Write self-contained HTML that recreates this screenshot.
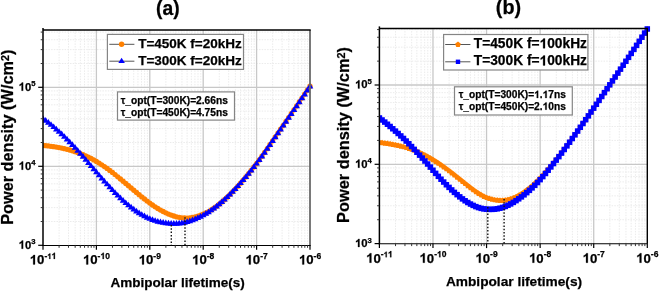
<!DOCTYPE html>
<html><head><meta charset="utf-8"><style>html,body{margin:0;padding:0;background:#fff}svg{display:block;will-change:transform}</style></head>
<body><svg width="660" height="292" viewBox="0 0 660 292">
<style>
.mg{stroke:#ebebeb;stroke-width:1;stroke-dasharray:1.5 1.2;fill:none}
.Mg{stroke:#c8c8c8;stroke-width:1.3;fill:none}
.tk{stroke:#000;stroke-width:1.2}
.tm{stroke:#333;stroke-width:1}
.h1{fill-opacity:0;stroke-opacity:0}
</style>
<rect width="660" height="292" fill="#fff"/>
<line x1="59.08" y1="29.9" x2="59.08" y2="245.3" class="mg"/>
<line x1="68.48" y1="29.9" x2="68.48" y2="245.3" class="mg"/>
<line x1="75.15" y1="29.9" x2="75.15" y2="245.3" class="mg"/>
<line x1="80.32" y1="29.9" x2="80.32" y2="245.3" class="mg"/>
<line x1="84.55" y1="29.9" x2="84.55" y2="245.3" class="mg"/>
<line x1="88.13" y1="29.9" x2="88.13" y2="245.3" class="mg"/>
<line x1="91.23" y1="29.9" x2="91.23" y2="245.3" class="mg"/>
<line x1="93.96" y1="29.9" x2="93.96" y2="245.3" class="mg"/>
<line x1="112.48" y1="29.9" x2="112.48" y2="245.3" class="mg"/>
<line x1="121.88" y1="29.9" x2="121.88" y2="245.3" class="mg"/>
<line x1="128.55" y1="29.9" x2="128.55" y2="245.3" class="mg"/>
<line x1="133.72" y1="29.9" x2="133.72" y2="245.3" class="mg"/>
<line x1="137.95" y1="29.9" x2="137.95" y2="245.3" class="mg"/>
<line x1="141.53" y1="29.9" x2="141.53" y2="245.3" class="mg"/>
<line x1="144.63" y1="29.9" x2="144.63" y2="245.3" class="mg"/>
<line x1="147.36" y1="29.9" x2="147.36" y2="245.3" class="mg"/>
<line x1="165.88" y1="29.9" x2="165.88" y2="245.3" class="mg"/>
<line x1="175.28" y1="29.9" x2="175.28" y2="245.3" class="mg"/>
<line x1="181.95" y1="29.9" x2="181.95" y2="245.3" class="mg"/>
<line x1="187.12" y1="29.9" x2="187.12" y2="245.3" class="mg"/>
<line x1="191.35" y1="29.9" x2="191.35" y2="245.3" class="mg"/>
<line x1="194.93" y1="29.9" x2="194.93" y2="245.3" class="mg"/>
<line x1="198.03" y1="29.9" x2="198.03" y2="245.3" class="mg"/>
<line x1="200.76" y1="29.9" x2="200.76" y2="245.3" class="mg"/>
<line x1="219.28" y1="29.9" x2="219.28" y2="245.3" class="mg"/>
<line x1="228.68" y1="29.9" x2="228.68" y2="245.3" class="mg"/>
<line x1="235.35" y1="29.9" x2="235.35" y2="245.3" class="mg"/>
<line x1="240.52" y1="29.9" x2="240.52" y2="245.3" class="mg"/>
<line x1="244.75" y1="29.9" x2="244.75" y2="245.3" class="mg"/>
<line x1="248.33" y1="29.9" x2="248.33" y2="245.3" class="mg"/>
<line x1="251.43" y1="29.9" x2="251.43" y2="245.3" class="mg"/>
<line x1="254.16" y1="29.9" x2="254.16" y2="245.3" class="mg"/>
<line x1="272.68" y1="29.9" x2="272.68" y2="245.3" class="mg"/>
<line x1="282.08" y1="29.9" x2="282.08" y2="245.3" class="mg"/>
<line x1="288.75" y1="29.9" x2="288.75" y2="245.3" class="mg"/>
<line x1="293.92" y1="29.9" x2="293.92" y2="245.3" class="mg"/>
<line x1="298.15" y1="29.9" x2="298.15" y2="245.3" class="mg"/>
<line x1="301.73" y1="29.9" x2="301.73" y2="245.3" class="mg"/>
<line x1="304.83" y1="29.9" x2="304.83" y2="245.3" class="mg"/>
<line x1="307.56" y1="29.9" x2="307.56" y2="245.3" class="mg"/>
<line x1="43" y1="221.52" x2="310" y2="221.52" class="mg"/>
<line x1="43" y1="207.61" x2="310" y2="207.61" class="mg"/>
<line x1="43" y1="197.74" x2="310" y2="197.74" class="mg"/>
<line x1="43" y1="190.08" x2="310" y2="190.08" class="mg"/>
<line x1="43" y1="183.83" x2="310" y2="183.83" class="mg"/>
<line x1="43" y1="178.54" x2="310" y2="178.54" class="mg"/>
<line x1="43" y1="173.96" x2="310" y2="173.96" class="mg"/>
<line x1="43" y1="169.91" x2="310" y2="169.91" class="mg"/>
<line x1="43" y1="142.52" x2="310" y2="142.52" class="mg"/>
<line x1="43" y1="128.61" x2="310" y2="128.61" class="mg"/>
<line x1="43" y1="118.74" x2="310" y2="118.74" class="mg"/>
<line x1="43" y1="111.08" x2="310" y2="111.08" class="mg"/>
<line x1="43" y1="104.83" x2="310" y2="104.83" class="mg"/>
<line x1="43" y1="99.54" x2="310" y2="99.54" class="mg"/>
<line x1="43" y1="94.96" x2="310" y2="94.96" class="mg"/>
<line x1="43" y1="90.91" x2="310" y2="90.91" class="mg"/>
<line x1="43" y1="63.52" x2="310" y2="63.52" class="mg"/>
<line x1="43" y1="49.61" x2="310" y2="49.61" class="mg"/>
<line x1="43" y1="39.74" x2="310" y2="39.74" class="mg"/>
<line x1="43" y1="32.08" x2="310" y2="32.08" class="mg"/>
<line x1="96.4" y1="29.9" x2="96.4" y2="245.3" class="Mg"/>
<line x1="149.8" y1="29.9" x2="149.8" y2="245.3" class="Mg"/>
<line x1="203.2" y1="29.9" x2="203.2" y2="245.3" class="Mg"/>
<line x1="256.6" y1="29.9" x2="256.6" y2="245.3" class="Mg"/>
<line x1="43" y1="166.3" x2="310" y2="166.3" class="Mg"/>
<line x1="43" y1="87.3" x2="310" y2="87.3" class="Mg"/>
<clipPath id="ca"><rect x="43" y="0" width="400" height="292"/></clipPath><g clip-path="url(#ca)">
<circle cx="43" cy="145.42" r="2.65" fill="#ff8000"/>
<circle cx="45.67" cy="145.67" r="2.65" fill="#ff8000"/>
<circle cx="48.34" cy="145.95" r="2.65" fill="#ff8000"/>
<circle cx="51.01" cy="146.28" r="2.65" fill="#ff8000"/>
<circle cx="53.68" cy="146.65" r="2.65" fill="#ff8000"/>
<circle cx="56.35" cy="147.07" r="2.65" fill="#ff8000"/>
<circle cx="59.02" cy="147.54" r="2.65" fill="#ff8000"/>
<circle cx="61.69" cy="148.07" r="2.65" fill="#ff8000"/>
<circle cx="64.36" cy="148.65" r="2.65" fill="#ff8000"/>
<circle cx="67.03" cy="149.29" r="2.65" fill="#ff8000"/>
<circle cx="69.7" cy="150" r="2.65" fill="#ff8000"/>
<circle cx="72.37" cy="150.78" r="2.65" fill="#ff8000"/>
<circle cx="75.04" cy="151.63" r="2.65" fill="#ff8000"/>
<circle cx="77.71" cy="152.56" r="2.65" fill="#ff8000"/>
<circle cx="80.38" cy="153.57" r="2.65" fill="#ff8000"/>
<circle cx="83.05" cy="154.66" r="2.65" fill="#ff8000"/>
<circle cx="85.72" cy="155.84" r="2.65" fill="#ff8000"/>
<circle cx="88.39" cy="157.1" r="2.65" fill="#ff8000"/>
<circle cx="91.06" cy="158.44" r="2.65" fill="#ff8000"/>
<circle cx="93.73" cy="159.9" r="2.65" fill="#ff8000"/>
<circle cx="96.4" cy="161.46" r="2.65" fill="#ff8000"/>
<circle cx="99.07" cy="163.1" r="2.65" fill="#ff8000"/>
<circle cx="101.74" cy="164.81" r="2.65" fill="#ff8000"/>
<circle cx="104.41" cy="166.6" r="2.65" fill="#ff8000"/>
<circle cx="107.08" cy="168.46" r="2.65" fill="#ff8000"/>
<circle cx="109.75" cy="170.41" r="2.65" fill="#ff8000"/>
<circle cx="112.42" cy="172.45" r="2.65" fill="#ff8000"/>
<circle cx="115.09" cy="174.58" r="2.65" fill="#ff8000"/>
<circle cx="117.76" cy="176.78" r="2.65" fill="#ff8000"/>
<circle cx="120.43" cy="179.02" r="2.65" fill="#ff8000"/>
<circle cx="123.1" cy="181.27" r="2.65" fill="#ff8000"/>
<circle cx="125.77" cy="183.5" r="2.65" fill="#ff8000"/>
<circle cx="128.44" cy="185.74" r="2.65" fill="#ff8000"/>
<circle cx="131.11" cy="188" r="2.65" fill="#ff8000"/>
<circle cx="133.78" cy="190.25" r="2.65" fill="#ff8000"/>
<circle cx="136.45" cy="192.49" r="2.65" fill="#ff8000"/>
<circle cx="139.12" cy="194.71" r="2.65" fill="#ff8000"/>
<circle cx="141.79" cy="196.89" r="2.65" fill="#ff8000"/>
<circle cx="144.46" cy="199.02" r="2.65" fill="#ff8000"/>
<circle cx="147.13" cy="201.1" r="2.65" fill="#ff8000"/>
<circle cx="149.8" cy="203.1" r="2.65" fill="#ff8000"/>
<circle cx="152.47" cy="205.01" r="2.65" fill="#ff8000"/>
<circle cx="155.14" cy="206.81" r="2.65" fill="#ff8000"/>
<circle cx="157.81" cy="208.5" r="2.65" fill="#ff8000"/>
<circle cx="160.48" cy="210.07" r="2.65" fill="#ff8000"/>
<circle cx="163.15" cy="211.51" r="2.65" fill="#ff8000"/>
<circle cx="165.82" cy="212.83" r="2.65" fill="#ff8000"/>
<circle cx="168.49" cy="214.03" r="2.65" fill="#ff8000"/>
<circle cx="171.16" cy="215.09" r="2.65" fill="#ff8000"/>
<circle cx="173.83" cy="216.01" r="2.65" fill="#ff8000"/>
<circle cx="176.5" cy="216.78" r="2.65" fill="#ff8000"/>
<circle cx="179.17" cy="217.37" r="2.65" fill="#ff8000"/>
<circle cx="181.84" cy="217.79" r="2.65" fill="#ff8000"/>
<circle cx="184.51" cy="218.02" r="2.65" fill="#ff8000"/>
<circle cx="187.18" cy="218.05" r="2.65" fill="#ff8000"/>
<circle cx="189.85" cy="217.87" r="2.65" fill="#ff8000"/>
<circle cx="192.52" cy="217.48" r="2.65" fill="#ff8000"/>
<circle cx="195.19" cy="216.91" r="2.65" fill="#ff8000"/>
<circle cx="197.86" cy="216.17" r="2.65" fill="#ff8000"/>
<circle cx="200.53" cy="215.27" r="2.65" fill="#ff8000"/>
<circle cx="203.2" cy="214.2" r="2.65" fill="#ff8000"/>
<circle cx="205.87" cy="212.96" r="2.65" fill="#ff8000"/>
<circle cx="208.54" cy="211.54" r="2.65" fill="#ff8000"/>
<circle cx="211.21" cy="209.95" r="2.65" fill="#ff8000"/>
<circle cx="213.88" cy="208.19" r="2.65" fill="#ff8000"/>
<circle cx="216.55" cy="206.28" r="2.65" fill="#ff8000"/>
<circle cx="219.22" cy="204.21" r="2.65" fill="#ff8000"/>
<circle cx="221.89" cy="202" r="2.65" fill="#ff8000"/>
<circle cx="224.56" cy="199.65" r="2.65" fill="#ff8000"/>
<circle cx="227.23" cy="197.17" r="2.65" fill="#ff8000"/>
<circle cx="229.9" cy="194.56" r="2.65" fill="#ff8000"/>
<circle cx="232.57" cy="191.84" r="2.65" fill="#ff8000"/>
<circle cx="235.24" cy="189.03" r="2.65" fill="#ff8000"/>
<circle cx="237.91" cy="186.13" r="2.65" fill="#ff8000"/>
<circle cx="240.58" cy="183.14" r="2.65" fill="#ff8000"/>
<circle cx="243.25" cy="180.07" r="2.65" fill="#ff8000"/>
<circle cx="245.92" cy="176.91" r="2.65" fill="#ff8000"/>
<circle cx="248.59" cy="173.68" r="2.65" fill="#ff8000"/>
<circle cx="251.26" cy="170.36" r="2.65" fill="#ff8000"/>
<circle cx="253.93" cy="166.98" r="2.65" fill="#ff8000"/>
<circle cx="256.6" cy="163.51" r="2.65" fill="#ff8000"/>
<circle cx="259.27" cy="159.94" r="2.65" fill="#ff8000"/>
<circle cx="261.94" cy="156.25" r="2.65" fill="#ff8000"/>
<circle cx="264.61" cy="152.48" r="2.65" fill="#ff8000"/>
<circle cx="267.28" cy="148.64" r="2.65" fill="#ff8000"/>
<circle cx="269.95" cy="144.75" r="2.65" fill="#ff8000"/>
<circle cx="272.62" cy="140.84" r="2.65" fill="#ff8000"/>
<circle cx="275.29" cy="136.93" r="2.65" fill="#ff8000"/>
<circle cx="277.96" cy="133.03" r="2.65" fill="#ff8000"/>
<circle cx="280.63" cy="129.16" r="2.65" fill="#ff8000"/>
<circle cx="283.3" cy="125.3" r="2.65" fill="#ff8000"/>
<circle cx="285.97" cy="121.43" r="2.65" fill="#ff8000"/>
<circle cx="288.64" cy="117.56" r="2.65" fill="#ff8000"/>
<circle cx="291.31" cy="113.68" r="2.65" fill="#ff8000"/>
<circle cx="293.98" cy="109.78" r="2.65" fill="#ff8000"/>
<circle cx="296.65" cy="105.88" r="2.65" fill="#ff8000"/>
<circle cx="299.32" cy="101.96" r="2.65" fill="#ff8000"/>
<circle cx="301.99" cy="98.03" r="2.65" fill="#ff8000"/>
<circle cx="304.66" cy="94.09" r="2.65" fill="#ff8000"/>
<circle cx="307.33" cy="90.15" r="2.65" fill="#ff8000"/>
<circle cx="310" cy="86.19" r="2.65" fill="#ff8000"/>
<path d="M43 115.24L46.3 120.94L39.7 120.94Z" fill="#0000ff"/>
<path d="M45.67 117.11L48.97 122.81L42.37 122.81Z" fill="#0000ff"/>
<path d="M48.34 119.09L51.64 124.79L45.04 124.79Z" fill="#0000ff"/>
<path d="M51.01 121.17L54.31 126.87L47.71 126.87Z" fill="#0000ff"/>
<path d="M53.68 123.38L56.98 129.08L50.38 129.08Z" fill="#0000ff"/>
<path d="M56.35 125.71L59.65 131.41L53.05 131.41Z" fill="#0000ff"/>
<path d="M59.02 128.13L62.32 133.83L55.72 133.83Z" fill="#0000ff"/>
<path d="M61.69 130.61L64.99 136.31L58.39 136.31Z" fill="#0000ff"/>
<path d="M64.36 133.14L67.66 138.84L61.06 138.84Z" fill="#0000ff"/>
<path d="M67.03 135.76L70.33 141.46L63.73 141.46Z" fill="#0000ff"/>
<path d="M69.7 138.45L73 144.15L66.4 144.15Z" fill="#0000ff"/>
<path d="M72.37 141.22L75.67 146.92L69.07 146.92Z" fill="#0000ff"/>
<path d="M75.04 144.06L78.34 149.76L71.74 149.76Z" fill="#0000ff"/>
<path d="M77.71 146.99L81.01 152.69L74.41 152.69Z" fill="#0000ff"/>
<path d="M80.38 149.98L83.68 155.68L77.08 155.68Z" fill="#0000ff"/>
<path d="M83.05 153.05L86.35 158.75L79.75 158.75Z" fill="#0000ff"/>
<path d="M85.72 156.16L89.02 161.86L82.42 161.86Z" fill="#0000ff"/>
<path d="M88.39 159.29L91.69 164.99L85.09 164.99Z" fill="#0000ff"/>
<path d="M91.06 162.42L94.36 168.12L87.76 168.12Z" fill="#0000ff"/>
<path d="M93.73 165.53L97.03 171.23L90.43 171.23Z" fill="#0000ff"/>
<path d="M96.4 168.6L99.7 174.3L93.1 174.3Z" fill="#0000ff"/>
<path d="M99.07 171.66L102.37 177.36L95.77 177.36Z" fill="#0000ff"/>
<path d="M101.74 174.7L105.04 180.4L98.44 180.4Z" fill="#0000ff"/>
<path d="M104.41 177.7L107.71 183.4L101.11 183.4Z" fill="#0000ff"/>
<path d="M107.08 180.67L110.38 186.37L103.78 186.37Z" fill="#0000ff"/>
<path d="M109.75 183.58L113.05 189.28L106.45 189.28Z" fill="#0000ff"/>
<path d="M112.42 186.42L115.72 192.12L109.12 192.12Z" fill="#0000ff"/>
<path d="M115.09 189.2L118.39 194.9L111.79 194.9Z" fill="#0000ff"/>
<path d="M117.76 191.89L121.06 197.59L114.46 197.59Z" fill="#0000ff"/>
<path d="M120.43 194.49L123.73 200.19L117.13 200.19Z" fill="#0000ff"/>
<path d="M123.1 196.99L126.4 202.69L119.8 202.69Z" fill="#0000ff"/>
<path d="M125.77 199.38L129.07 205.08L122.47 205.08Z" fill="#0000ff"/>
<path d="M128.44 201.66L131.74 207.36L125.14 207.36Z" fill="#0000ff"/>
<path d="M131.11 203.82L134.41 209.52L127.81 209.52Z" fill="#0000ff"/>
<path d="M133.78 205.84L137.08 211.54L130.48 211.54Z" fill="#0000ff"/>
<path d="M136.45 207.74L139.75 213.44L133.15 213.44Z" fill="#0000ff"/>
<path d="M139.12 209.5L142.42 215.2L135.82 215.2Z" fill="#0000ff"/>
<path d="M141.79 211.13L145.09 216.83L138.49 216.83Z" fill="#0000ff"/>
<path d="M144.46 212.61L147.76 218.31L141.16 218.31Z" fill="#0000ff"/>
<path d="M147.13 213.96L150.43 219.66L143.83 219.66Z" fill="#0000ff"/>
<path d="M149.8 215.16L153.1 220.86L146.5 220.86Z" fill="#0000ff"/>
<path d="M152.47 216.23L155.77 221.93L149.17 221.93Z" fill="#0000ff"/>
<path d="M155.14 217.15L158.44 222.85L151.84 222.85Z" fill="#0000ff"/>
<path d="M157.81 217.94L161.11 223.64L154.51 223.64Z" fill="#0000ff"/>
<path d="M160.48 218.59L163.78 224.29L157.18 224.29Z" fill="#0000ff"/>
<path d="M163.15 219.12L166.45 224.82L159.85 224.82Z" fill="#0000ff"/>
<path d="M165.82 219.53L169.12 225.23L162.52 225.23Z" fill="#0000ff"/>
<path d="M168.49 219.84L171.79 225.54L165.19 225.54Z" fill="#0000ff"/>
<path d="M171.16 220.02L174.46 225.72L167.86 225.72Z" fill="#0000ff"/>
<path d="M173.83 220.07L177.13 225.77L170.53 225.77Z" fill="#0000ff"/>
<path d="M176.5 220L179.8 225.7L173.2 225.7Z" fill="#0000ff"/>
<path d="M179.17 219.79L182.47 225.49L175.87 225.49Z" fill="#0000ff"/>
<path d="M181.84 219.44L185.14 225.14L178.54 225.14Z" fill="#0000ff"/>
<path d="M184.51 218.94L187.81 224.64L181.21 224.64Z" fill="#0000ff"/>
<path d="M187.18 218.29L190.48 223.99L183.88 223.99Z" fill="#0000ff"/>
<path d="M189.85 217.51L193.15 223.21L186.55 223.21Z" fill="#0000ff"/>
<path d="M192.52 216.59L195.82 222.29L189.22 222.29Z" fill="#0000ff"/>
<path d="M195.19 215.54L198.49 221.24L191.89 221.24Z" fill="#0000ff"/>
<path d="M197.86 214.37L201.16 220.07L194.56 220.07Z" fill="#0000ff"/>
<path d="M200.53 213.06L203.83 218.76L197.23 218.76Z" fill="#0000ff"/>
<path d="M203.2 211.64L206.5 217.34L199.9 217.34Z" fill="#0000ff"/>
<path d="M205.87 210.09L209.17 215.79L202.57 215.79Z" fill="#0000ff"/>
<path d="M208.54 208.43L211.84 214.13L205.24 214.13Z" fill="#0000ff"/>
<path d="M211.21 206.64L214.51 212.34L207.91 212.34Z" fill="#0000ff"/>
<path d="M213.88 204.74L217.18 210.44L210.58 210.44Z" fill="#0000ff"/>
<path d="M216.55 202.71L219.85 208.41L213.25 208.41Z" fill="#0000ff"/>
<path d="M219.22 200.56L222.52 206.26L215.92 206.26Z" fill="#0000ff"/>
<path d="M221.89 198.3L225.19 204L218.59 204Z" fill="#0000ff"/>
<path d="M224.56 195.91L227.86 201.61L221.26 201.61Z" fill="#0000ff"/>
<path d="M227.23 193.41L230.53 199.11L223.93 199.11Z" fill="#0000ff"/>
<path d="M229.9 190.8L233.2 196.5L226.6 196.5Z" fill="#0000ff"/>
<path d="M232.57 188.08L235.87 193.78L229.27 193.78Z" fill="#0000ff"/>
<path d="M235.24 185.28L238.54 190.98L231.94 190.98Z" fill="#0000ff"/>
<path d="M237.91 182.39L241.21 188.09L234.61 188.09Z" fill="#0000ff"/>
<path d="M240.58 179.42L243.88 185.12L237.28 185.12Z" fill="#0000ff"/>
<path d="M243.25 176.36L246.55 182.06L239.95 182.06Z" fill="#0000ff"/>
<path d="M245.92 173.22L249.22 178.92L242.62 178.92Z" fill="#0000ff"/>
<path d="M248.59 170.01L251.89 175.71L245.29 175.71Z" fill="#0000ff"/>
<path d="M251.26 166.72L254.56 172.42L247.96 172.42Z" fill="#0000ff"/>
<path d="M253.93 163.35L257.23 169.05L250.63 169.05Z" fill="#0000ff"/>
<path d="M256.6 159.91L259.9 165.61L253.3 165.61Z" fill="#0000ff"/>
<path d="M259.27 156.35L262.57 162.05L255.97 162.05Z" fill="#0000ff"/>
<path d="M261.94 152.69L265.24 158.39L258.64 158.39Z" fill="#0000ff"/>
<path d="M264.61 148.93L267.91 154.63L261.31 154.63Z" fill="#0000ff"/>
<path d="M267.28 145.11L270.58 150.81L263.98 150.81Z" fill="#0000ff"/>
<path d="M269.95 141.24L273.25 146.94L266.65 146.94Z" fill="#0000ff"/>
<path d="M272.62 137.35L275.92 143.05L269.32 143.05Z" fill="#0000ff"/>
<path d="M275.29 133.45L278.59 139.15L271.99 139.15Z" fill="#0000ff"/>
<path d="M277.96 129.56L281.26 135.26L274.66 135.26Z" fill="#0000ff"/>
<path d="M280.63 125.71L283.93 131.41L277.33 131.41Z" fill="#0000ff"/>
<path d="M283.3 121.86L286.6 127.56L280 127.56Z" fill="#0000ff"/>
<path d="M285.97 118.01L289.27 123.71L282.67 123.71Z" fill="#0000ff"/>
<path d="M288.64 114.14L291.94 119.84L285.34 119.84Z" fill="#0000ff"/>
<path d="M291.31 110.27L294.61 115.97L288.01 115.97Z" fill="#0000ff"/>
<path d="M293.98 106.38L297.28 112.08L290.68 112.08Z" fill="#0000ff"/>
<path d="M296.65 102.49L299.95 108.19L293.35 108.19Z" fill="#0000ff"/>
<path d="M299.32 98.58L302.62 104.28L296.02 104.28Z" fill="#0000ff"/>
<path d="M301.99 94.65L305.29 100.35L298.69 100.35Z" fill="#0000ff"/>
<path d="M304.66 90.72L307.96 96.42L301.36 96.42Z" fill="#0000ff"/>
<path d="M307.33 86.78L310.63 92.48L304.03 92.48Z" fill="#0000ff"/>
<path d="M310 82.83L313.3 88.53L306.7 88.53Z" fill="#0000ff"/>
<line x1="171.3" y1="225" x2="171.3" y2="245.3" stroke="#111" stroke-width="1.4" stroke-dasharray="1.5 1.8"/>
<line x1="185" y1="217.3" x2="185" y2="245.3" stroke="#111" stroke-width="1.4" stroke-dasharray="1.5 1.8"/>
</g>
<line x1="310" y1="29.9" x2="310" y2="245.3" stroke="#6a6a6a" stroke-width="1.8"/>
<line x1="43" y1="29.9" x2="310.7" y2="29.9" stroke="#000" stroke-width="1.5"/>
<line x1="42.2" y1="245.45" x2="310.7" y2="245.45" stroke="#000" stroke-width="1.1"/>
<line x1="43" y1="27.9" x2="43" y2="245.9" stroke="#000" stroke-width="1.5"/>
<line x1="43" y1="245.3" x2="43" y2="249.8" class="tk"/>
<line x1="59.08" y1="245.3" x2="59.08" y2="247.8" class="tm"/>
<line x1="68.48" y1="245.3" x2="68.48" y2="247.8" class="tm"/>
<line x1="75.15" y1="245.3" x2="75.15" y2="247.8" class="tm"/>
<line x1="80.32" y1="245.3" x2="80.32" y2="247.8" class="tm"/>
<line x1="84.55" y1="245.3" x2="84.55" y2="247.8" class="tm"/>
<line x1="88.13" y1="245.3" x2="88.13" y2="247.8" class="tm"/>
<line x1="91.23" y1="245.3" x2="91.23" y2="247.8" class="tm"/>
<line x1="93.96" y1="245.3" x2="93.96" y2="247.8" class="tm"/>
<line x1="96.4" y1="245.3" x2="96.4" y2="249.8" class="tk"/>
<line x1="112.48" y1="245.3" x2="112.48" y2="247.8" class="tm"/>
<line x1="121.88" y1="245.3" x2="121.88" y2="247.8" class="tm"/>
<line x1="128.55" y1="245.3" x2="128.55" y2="247.8" class="tm"/>
<line x1="133.72" y1="245.3" x2="133.72" y2="247.8" class="tm"/>
<line x1="137.95" y1="245.3" x2="137.95" y2="247.8" class="tm"/>
<line x1="141.53" y1="245.3" x2="141.53" y2="247.8" class="tm"/>
<line x1="144.63" y1="245.3" x2="144.63" y2="247.8" class="tm"/>
<line x1="147.36" y1="245.3" x2="147.36" y2="247.8" class="tm"/>
<line x1="149.8" y1="245.3" x2="149.8" y2="249.8" class="tk"/>
<line x1="165.88" y1="245.3" x2="165.88" y2="247.8" class="tm"/>
<line x1="175.28" y1="245.3" x2="175.28" y2="247.8" class="tm"/>
<line x1="181.95" y1="245.3" x2="181.95" y2="247.8" class="tm"/>
<line x1="187.12" y1="245.3" x2="187.12" y2="247.8" class="tm"/>
<line x1="191.35" y1="245.3" x2="191.35" y2="247.8" class="tm"/>
<line x1="194.93" y1="245.3" x2="194.93" y2="247.8" class="tm"/>
<line x1="198.03" y1="245.3" x2="198.03" y2="247.8" class="tm"/>
<line x1="200.76" y1="245.3" x2="200.76" y2="247.8" class="tm"/>
<line x1="203.2" y1="245.3" x2="203.2" y2="249.8" class="tk"/>
<line x1="219.28" y1="245.3" x2="219.28" y2="247.8" class="tm"/>
<line x1="228.68" y1="245.3" x2="228.68" y2="247.8" class="tm"/>
<line x1="235.35" y1="245.3" x2="235.35" y2="247.8" class="tm"/>
<line x1="240.52" y1="245.3" x2="240.52" y2="247.8" class="tm"/>
<line x1="244.75" y1="245.3" x2="244.75" y2="247.8" class="tm"/>
<line x1="248.33" y1="245.3" x2="248.33" y2="247.8" class="tm"/>
<line x1="251.43" y1="245.3" x2="251.43" y2="247.8" class="tm"/>
<line x1="254.16" y1="245.3" x2="254.16" y2="247.8" class="tm"/>
<line x1="256.6" y1="245.3" x2="256.6" y2="249.8" class="tk"/>
<line x1="272.68" y1="245.3" x2="272.68" y2="247.8" class="tm"/>
<line x1="282.08" y1="245.3" x2="282.08" y2="247.8" class="tm"/>
<line x1="288.75" y1="245.3" x2="288.75" y2="247.8" class="tm"/>
<line x1="293.92" y1="245.3" x2="293.92" y2="247.8" class="tm"/>
<line x1="298.15" y1="245.3" x2="298.15" y2="247.8" class="tm"/>
<line x1="301.73" y1="245.3" x2="301.73" y2="247.8" class="tm"/>
<line x1="304.83" y1="245.3" x2="304.83" y2="247.8" class="tm"/>
<line x1="307.56" y1="245.3" x2="307.56" y2="247.8" class="tm"/>
<line x1="310" y1="245.3" x2="310" y2="249.8" class="tk"/>
<line x1="43" y1="245.3" x2="38.2" y2="245.3" class="tk"/>
<line x1="43" y1="221.52" x2="40.7" y2="221.52" class="tm"/>
<line x1="43" y1="207.61" x2="40.7" y2="207.61" class="tm"/>
<line x1="43" y1="197.74" x2="40.7" y2="197.74" class="tm"/>
<line x1="43" y1="190.08" x2="40.7" y2="190.08" class="tm"/>
<line x1="43" y1="183.83" x2="40.7" y2="183.83" class="tm"/>
<line x1="43" y1="178.54" x2="40.7" y2="178.54" class="tm"/>
<line x1="43" y1="173.96" x2="40.7" y2="173.96" class="tm"/>
<line x1="43" y1="169.91" x2="40.7" y2="169.91" class="tm"/>
<line x1="43" y1="166.3" x2="38.2" y2="166.3" class="tk"/>
<line x1="43" y1="142.52" x2="40.7" y2="142.52" class="tm"/>
<line x1="43" y1="128.61" x2="40.7" y2="128.61" class="tm"/>
<line x1="43" y1="118.74" x2="40.7" y2="118.74" class="tm"/>
<line x1="43" y1="111.08" x2="40.7" y2="111.08" class="tm"/>
<line x1="43" y1="104.83" x2="40.7" y2="104.83" class="tm"/>
<line x1="43" y1="99.54" x2="40.7" y2="99.54" class="tm"/>
<line x1="43" y1="94.96" x2="40.7" y2="94.96" class="tm"/>
<line x1="43" y1="90.91" x2="40.7" y2="90.91" class="tm"/>
<line x1="43" y1="87.3" x2="38.2" y2="87.3" class="tk"/>
<line x1="43" y1="63.52" x2="40.7" y2="63.52" class="tm"/>
<line x1="43" y1="49.61" x2="40.7" y2="49.61" class="tm"/>
<line x1="43" y1="39.74" x2="40.7" y2="39.74" class="tm"/>
<line x1="43" y1="32.08" x2="40.7" y2="32.08" class="tm"/>
<text x="43" y="264.4" text-anchor="middle" font-size="13.2" font-family="Liberation Sans, sans-serif" font-weight="bold" stroke="#000" stroke-width="0.25"><tspan class="h1">1</tspan>0<tspan font-size="8.5" dy="-5.5">-<tspan class="h1">1</tspan><tspan class="h1">1</tspan></tspan></text>
<text x="96.4" y="264.4" text-anchor="middle" font-size="13.2" font-family="Liberation Sans, sans-serif" font-weight="bold" stroke="#000" stroke-width="0.25"><tspan class="h1">1</tspan>0<tspan font-size="8.5" dy="-5.5">-<tspan class="h1">1</tspan>0</tspan></text>
<text x="149.8" y="264.4" text-anchor="middle" font-size="13.2" font-family="Liberation Sans, sans-serif" font-weight="bold" stroke="#000" stroke-width="0.25"><tspan class="h1">1</tspan>0<tspan font-size="8.5" dy="-5.5">-9</tspan></text>
<text x="203.2" y="264.4" text-anchor="middle" font-size="13.2" font-family="Liberation Sans, sans-serif" font-weight="bold" stroke="#000" stroke-width="0.25"><tspan class="h1">1</tspan>0<tspan font-size="8.5" dy="-5.5">-8</tspan></text>
<text x="256.6" y="264.4" text-anchor="middle" font-size="13.2" font-family="Liberation Sans, sans-serif" font-weight="bold" stroke="#000" stroke-width="0.25"><tspan class="h1">1</tspan>0<tspan font-size="8.5" dy="-5.5">-7</tspan></text>
<text x="310" y="264.4" text-anchor="middle" font-size="13.2" font-family="Liberation Sans, sans-serif" font-weight="bold" stroke="#000" stroke-width="0.25"><tspan class="h1">1</tspan>0<tspan font-size="8.5" dy="-5.5">-6</tspan></text>
<text x="35.5" y="248.7" text-anchor="end" font-size="11.3" font-family="Liberation Sans, sans-serif" font-weight="bold" stroke="#000" stroke-width="0.25"><tspan class="h1">1</tspan>0<tspan font-size="7.7" dy="-4.4">3</tspan></text>
<text x="35.5" y="169.7" text-anchor="end" font-size="11.3" font-family="Liberation Sans, sans-serif" font-weight="bold" stroke="#000" stroke-width="0.25"><tspan class="h1">1</tspan>0<tspan font-size="7.7" dy="-4.4">4</tspan></text>
<text x="35.5" y="90.7" text-anchor="end" font-size="11.3" font-family="Liberation Sans, sans-serif" font-weight="bold" stroke="#000" stroke-width="0.25"><tspan class="h1">1</tspan>0<tspan font-size="7.7" dy="-4.4">5</tspan></text>
<line x1="395.53" y1="28.4" x2="395.53" y2="243.6" class="mg"/>
<line x1="404.96" y1="28.4" x2="404.96" y2="243.6" class="mg"/>
<line x1="411.66" y1="28.4" x2="411.66" y2="243.6" class="mg"/>
<line x1="416.85" y1="28.4" x2="416.85" y2="243.6" class="mg"/>
<line x1="421.09" y1="28.4" x2="421.09" y2="243.6" class="mg"/>
<line x1="424.68" y1="28.4" x2="424.68" y2="243.6" class="mg"/>
<line x1="427.79" y1="28.4" x2="427.79" y2="243.6" class="mg"/>
<line x1="430.53" y1="28.4" x2="430.53" y2="243.6" class="mg"/>
<line x1="449.11" y1="28.4" x2="449.11" y2="243.6" class="mg"/>
<line x1="458.54" y1="28.4" x2="458.54" y2="243.6" class="mg"/>
<line x1="465.24" y1="28.4" x2="465.24" y2="243.6" class="mg"/>
<line x1="470.43" y1="28.4" x2="470.43" y2="243.6" class="mg"/>
<line x1="474.67" y1="28.4" x2="474.67" y2="243.6" class="mg"/>
<line x1="478.26" y1="28.4" x2="478.26" y2="243.6" class="mg"/>
<line x1="481.37" y1="28.4" x2="481.37" y2="243.6" class="mg"/>
<line x1="484.11" y1="28.4" x2="484.11" y2="243.6" class="mg"/>
<line x1="502.69" y1="28.4" x2="502.69" y2="243.6" class="mg"/>
<line x1="512.12" y1="28.4" x2="512.12" y2="243.6" class="mg"/>
<line x1="518.82" y1="28.4" x2="518.82" y2="243.6" class="mg"/>
<line x1="524.01" y1="28.4" x2="524.01" y2="243.6" class="mg"/>
<line x1="528.25" y1="28.4" x2="528.25" y2="243.6" class="mg"/>
<line x1="531.84" y1="28.4" x2="531.84" y2="243.6" class="mg"/>
<line x1="534.95" y1="28.4" x2="534.95" y2="243.6" class="mg"/>
<line x1="537.69" y1="28.4" x2="537.69" y2="243.6" class="mg"/>
<line x1="556.27" y1="28.4" x2="556.27" y2="243.6" class="mg"/>
<line x1="565.7" y1="28.4" x2="565.7" y2="243.6" class="mg"/>
<line x1="572.4" y1="28.4" x2="572.4" y2="243.6" class="mg"/>
<line x1="577.59" y1="28.4" x2="577.59" y2="243.6" class="mg"/>
<line x1="581.83" y1="28.4" x2="581.83" y2="243.6" class="mg"/>
<line x1="585.42" y1="28.4" x2="585.42" y2="243.6" class="mg"/>
<line x1="588.53" y1="28.4" x2="588.53" y2="243.6" class="mg"/>
<line x1="591.27" y1="28.4" x2="591.27" y2="243.6" class="mg"/>
<line x1="609.85" y1="28.4" x2="609.85" y2="243.6" class="mg"/>
<line x1="619.28" y1="28.4" x2="619.28" y2="243.6" class="mg"/>
<line x1="625.98" y1="28.4" x2="625.98" y2="243.6" class="mg"/>
<line x1="631.17" y1="28.4" x2="631.17" y2="243.6" class="mg"/>
<line x1="635.41" y1="28.4" x2="635.41" y2="243.6" class="mg"/>
<line x1="639" y1="28.4" x2="639" y2="243.6" class="mg"/>
<line x1="642.11" y1="28.4" x2="642.11" y2="243.6" class="mg"/>
<line x1="644.85" y1="28.4" x2="644.85" y2="243.6" class="mg"/>
<line x1="379.4" y1="219.73" x2="647.3" y2="219.73" class="mg"/>
<line x1="379.4" y1="205.76" x2="647.3" y2="205.76" class="mg"/>
<line x1="379.4" y1="195.86" x2="647.3" y2="195.86" class="mg"/>
<line x1="379.4" y1="188.17" x2="647.3" y2="188.17" class="mg"/>
<line x1="379.4" y1="181.89" x2="647.3" y2="181.89" class="mg"/>
<line x1="379.4" y1="176.58" x2="647.3" y2="176.58" class="mg"/>
<line x1="379.4" y1="171.98" x2="647.3" y2="171.98" class="mg"/>
<line x1="379.4" y1="167.93" x2="647.3" y2="167.93" class="mg"/>
<line x1="379.4" y1="140.43" x2="647.3" y2="140.43" class="mg"/>
<line x1="379.4" y1="126.46" x2="647.3" y2="126.46" class="mg"/>
<line x1="379.4" y1="116.56" x2="647.3" y2="116.56" class="mg"/>
<line x1="379.4" y1="108.87" x2="647.3" y2="108.87" class="mg"/>
<line x1="379.4" y1="102.59" x2="647.3" y2="102.59" class="mg"/>
<line x1="379.4" y1="97.28" x2="647.3" y2="97.28" class="mg"/>
<line x1="379.4" y1="92.68" x2="647.3" y2="92.68" class="mg"/>
<line x1="379.4" y1="88.63" x2="647.3" y2="88.63" class="mg"/>
<line x1="379.4" y1="61.13" x2="647.3" y2="61.13" class="mg"/>
<line x1="379.4" y1="47.16" x2="647.3" y2="47.16" class="mg"/>
<line x1="379.4" y1="37.26" x2="647.3" y2="37.26" class="mg"/>
<line x1="379.4" y1="29.57" x2="647.3" y2="29.57" class="mg"/>
<line x1="432.98" y1="28.4" x2="432.98" y2="243.6" class="Mg"/>
<line x1="486.56" y1="28.4" x2="486.56" y2="243.6" class="Mg"/>
<line x1="540.14" y1="28.4" x2="540.14" y2="243.6" class="Mg"/>
<line x1="593.72" y1="28.4" x2="593.72" y2="243.6" class="Mg"/>
<line x1="379.4" y1="164.3" x2="647.3" y2="164.3" class="Mg"/>
<line x1="379.4" y1="85" x2="647.3" y2="85" class="Mg"/>
<clipPath id="cb"><rect x="379.4" y="0" width="400" height="292"/></clipPath><g clip-path="url(#cb)">
<polygon points="379.4,139.55 382.25,141.62 381.16,144.98 377.64,144.98 376.55,141.62" fill="#ff8000"/>
<polygon points="382.08,139.86 384.93,141.93 383.84,145.28 380.32,145.28 379.23,141.93" fill="#ff8000"/>
<polygon points="384.76,140.2 387.61,142.27 386.52,145.63 382.99,145.63 381.9,142.27" fill="#ff8000"/>
<polygon points="387.44,140.58 390.29,142.65 389.2,146.01 385.67,146.01 384.58,142.65" fill="#ff8000"/>
<polygon points="390.12,141.01 392.97,143.08 391.88,146.43 388.35,146.43 387.26,143.08" fill="#ff8000"/>
<polygon points="392.79,141.48 395.65,143.55 394.56,146.9 391.03,146.9 389.94,143.55" fill="#ff8000"/>
<polygon points="395.47,142 398.33,144.07 397.24,147.42 393.71,147.42 392.62,144.07" fill="#ff8000"/>
<polygon points="398.15,142.57 401.01,144.64 399.92,148 396.39,148 395.3,144.64" fill="#ff8000"/>
<polygon points="400.83,143.2 403.69,145.27 402.6,148.63 399.07,148.63 397.98,145.27" fill="#ff8000"/>
<polygon points="403.51,143.89 406.36,145.97 405.27,149.32 401.75,149.32 400.66,145.97" fill="#ff8000"/>
<polygon points="406.19,144.65 409.04,146.73 407.95,150.08 404.43,150.08 403.34,146.73" fill="#ff8000"/>
<polygon points="408.87,145.49 411.72,147.56 410.63,150.92 407.11,150.92 406.02,147.56" fill="#ff8000"/>
<polygon points="411.55,146.41 414.4,148.48 413.31,151.83 409.78,151.83 408.69,148.48" fill="#ff8000"/>
<polygon points="414.23,147.41 417.08,149.48 415.99,152.83 412.46,152.83 411.37,149.48" fill="#ff8000"/>
<polygon points="416.91,148.49 419.76,150.56 418.67,153.92 415.14,153.92 414.05,150.56" fill="#ff8000"/>
<polygon points="419.58,149.66 422.44,151.73 421.35,155.09 417.82,155.09 416.73,151.73" fill="#ff8000"/>
<polygon points="422.26,150.92 425.12,152.99 424.03,156.35 420.5,156.35 419.41,152.99" fill="#ff8000"/>
<polygon points="424.94,152.27 427.8,154.34 426.71,157.69 423.18,157.69 422.09,154.34" fill="#ff8000"/>
<polygon points="427.62,153.7 430.48,155.77 429.39,159.13 425.86,159.13 424.77,155.77" fill="#ff8000"/>
<polygon points="430.3,155.22 433.15,157.29 432.06,160.65 428.54,160.65 427.45,157.29" fill="#ff8000"/>
<polygon points="432.98,156.82 435.83,158.9 434.74,162.25 431.22,162.25 430.13,158.9" fill="#ff8000"/>
<polygon points="435.66,158.51 438.51,160.58 437.42,163.93 433.9,163.93 432.81,160.58" fill="#ff8000"/>
<polygon points="438.34,160.26 441.19,162.34 440.1,165.69 436.57,165.69 435.48,162.34" fill="#ff8000"/>
<polygon points="441.02,162.09 443.87,164.16 442.78,167.52 439.25,167.52 438.16,164.16" fill="#ff8000"/>
<polygon points="443.7,163.98 446.55,166.05 445.46,169.41 441.93,169.41 440.84,166.05" fill="#ff8000"/>
<polygon points="446.38,165.93 449.23,168.01 448.14,171.36 444.61,171.36 443.52,168.01" fill="#ff8000"/>
<polygon points="449.05,167.94 451.91,170.02 450.82,173.37 447.29,173.37 446.2,170.02" fill="#ff8000"/>
<polygon points="451.73,170 454.59,172.07 453.5,175.42 449.97,175.42 448.88,172.07" fill="#ff8000"/>
<polygon points="454.41,172.09 457.27,174.16 456.18,177.52 452.65,177.52 451.56,174.16" fill="#ff8000"/>
<polygon points="457.09,174.21 459.94,176.28 458.85,179.63 455.33,179.63 454.24,176.28" fill="#ff8000"/>
<polygon points="459.77,176.34 462.62,178.41 461.53,181.76 458.01,181.76 456.92,178.41" fill="#ff8000"/>
<polygon points="462.45,178.48 465.3,180.55 464.21,183.91 460.69,183.91 459.6,180.55" fill="#ff8000"/>
<polygon points="465.13,180.64 467.98,182.71 466.89,186.06 463.36,186.06 462.27,182.71" fill="#ff8000"/>
<polygon points="467.81,182.77 470.66,184.84 469.57,188.2 466.04,188.2 464.95,184.84" fill="#ff8000"/>
<polygon points="470.49,184.86 473.34,186.93 472.25,190.29 468.72,190.29 467.63,186.93" fill="#ff8000"/>
<polygon points="473.16,186.87 476.02,188.94 474.93,192.29 471.4,192.29 470.31,188.94" fill="#ff8000"/>
<polygon points="475.84,188.77 478.7,190.84 477.61,194.2 474.08,194.2 472.99,190.84" fill="#ff8000"/>
<polygon points="478.52,190.53 481.38,192.6 480.29,195.96 476.76,195.96 475.67,192.6" fill="#ff8000"/>
<polygon points="481.2,192.12 484.06,194.19 482.97,197.55 479.44,197.55 478.35,194.19" fill="#ff8000"/>
<polygon points="483.88,193.49 486.73,195.56 485.64,198.92 482.12,198.92 481.03,195.56" fill="#ff8000"/>
<polygon points="486.56,194.65 489.41,196.72 488.32,200.08 484.8,200.08 483.71,196.72" fill="#ff8000"/>
<polygon points="489.24,195.6 492.09,197.67 491,201.02 487.48,201.02 486.39,197.67" fill="#ff8000"/>
<polygon points="491.92,196.34 494.77,198.41 493.68,201.77 490.15,201.77 489.06,198.41" fill="#ff8000"/>
<polygon points="494.6,196.89 497.45,198.97 496.36,202.32 492.83,202.32 491.74,198.97" fill="#ff8000"/>
<polygon points="497.28,197.26 500.13,199.34 499.04,202.69 495.51,202.69 494.42,199.34" fill="#ff8000"/>
<polygon points="499.95,197.47 502.81,199.54 501.72,202.9 498.19,202.9 497.1,199.54" fill="#ff8000"/>
<polygon points="502.63,197.48 505.49,199.55 504.4,202.9 500.87,202.9 499.78,199.55" fill="#ff8000"/>
<polygon points="505.31,197.24 508.17,199.32 507.08,202.67 503.55,202.67 502.46,199.32" fill="#ff8000"/>
<polygon points="507.99,196.77 510.85,198.84 509.76,202.2 506.23,202.2 505.14,198.84" fill="#ff8000"/>
<polygon points="510.67,196.06 513.52,198.13 512.43,201.48 508.91,201.48 507.82,198.13" fill="#ff8000"/>
<polygon points="513.35,195.11 516.2,197.18 515.11,200.53 511.59,200.53 510.5,197.18" fill="#ff8000"/>
<polygon points="516.03,193.93 518.88,196 517.79,199.35 514.27,199.35 513.18,196" fill="#ff8000"/>
<polygon points="518.71,192.52 521.56,194.6 520.47,197.95 516.94,197.95 515.85,194.6" fill="#ff8000"/>
<polygon points="521.39,190.91 524.24,192.99 523.15,196.34 519.62,196.34 518.53,192.99" fill="#ff8000"/>
<polygon points="524.07,189.15 526.92,191.22 525.83,194.57 522.3,194.57 521.21,191.22" fill="#ff8000"/>
<polygon points="526.75,187.22 529.6,189.3 528.51,192.65 524.98,192.65 523.89,189.3" fill="#ff8000"/>
<polygon points="529.42,185.14 532.28,187.21 531.19,190.57 527.66,190.57 526.57,187.21" fill="#ff8000"/>
<polygon points="532.1,182.9 534.96,184.97 533.87,188.33 530.34,188.33 529.25,184.97" fill="#ff8000"/>
<polygon points="534.78,180.5 537.64,182.57 536.55,185.93 533.02,185.93 531.93,182.57" fill="#ff8000"/>
<polygon points="537.46,177.94 540.31,180.01 539.22,183.36 535.7,183.36 534.61,180.01" fill="#ff8000"/>
<polygon points="540.14,175.21 542.99,177.28 541.9,180.64 538.38,180.64 537.29,177.28" fill="#ff8000"/>
<polygon points="542.82,172.34 545.67,174.42 544.58,177.77 541.06,177.77 539.97,174.42" fill="#ff8000"/>
<polygon points="545.5,169.37 548.35,171.44 547.26,174.8 543.73,174.8 542.64,171.44" fill="#ff8000"/>
<polygon points="548.18,166.29 551.03,168.37 549.94,171.72 546.41,171.72 545.32,168.37" fill="#ff8000"/>
<polygon points="550.86,163.13 553.71,165.2 552.62,168.55 549.09,168.55 548,165.2" fill="#ff8000"/>
<polygon points="553.53,159.88 556.39,161.95 555.3,165.31 551.77,165.31 550.68,161.95" fill="#ff8000"/>
<polygon points="556.21,156.55 559.07,158.63 557.98,161.98 554.45,161.98 553.36,158.63" fill="#ff8000"/>
<polygon points="558.89,153.16 561.75,155.24 560.66,158.59 557.13,158.59 556.04,155.24" fill="#ff8000"/>
<polygon points="561.57,149.71 564.43,151.78 563.34,155.14 559.81,155.14 558.72,151.78" fill="#ff8000"/>
<polygon points="564.25,146.2 567.1,148.27 566.01,151.63 562.49,151.63 561.4,148.27" fill="#ff8000"/>
<polygon points="566.93,142.64 569.78,144.71 568.69,148.07 565.17,148.07 564.08,144.71" fill="#ff8000"/>
<polygon points="569.61,139.03 572.46,141.11 571.37,144.46 567.85,144.46 566.76,141.11" fill="#ff8000"/>
<polygon points="572.29,135.39 575.14,137.46 574.05,140.81 570.52,140.81 569.43,137.46" fill="#ff8000"/>
<polygon points="574.97,131.71 577.82,133.78 576.73,137.13 573.2,137.13 572.11,133.78" fill="#ff8000"/>
<polygon points="577.65,127.99 580.5,130.07 579.41,133.42 575.88,133.42 574.79,130.07" fill="#ff8000"/>
<polygon points="580.32,124.26 583.18,126.33 582.09,129.68 578.56,129.68 577.47,126.33" fill="#ff8000"/>
<polygon points="583,120.49 585.86,122.57 584.77,125.92 581.24,125.92 580.15,122.57" fill="#ff8000"/>
<polygon points="585.68,116.71 588.54,118.78 587.45,122.14 583.92,122.14 582.83,118.78" fill="#ff8000"/>
<polygon points="588.36,112.9 591.22,114.98 590.13,118.33 586.6,118.33 585.51,114.98" fill="#ff8000"/>
<polygon points="591.04,109.08 593.89,111.16 592.8,114.51 589.28,114.51 588.19,111.16" fill="#ff8000"/>
<polygon points="593.72,105.25 596.57,107.32 595.48,110.67 591.96,110.67 590.87,107.32" fill="#ff8000"/>
<polygon points="596.4,101.4 599.25,103.47 598.16,106.82 594.64,106.82 593.55,103.47" fill="#ff8000"/>
<polygon points="599.08,97.53 601.93,99.61 600.84,102.96 597.31,102.96 596.22,99.61" fill="#ff8000"/>
<polygon points="601.76,93.66 604.61,95.73 603.52,99.09 599.99,99.09 598.9,95.73" fill="#ff8000"/>
<polygon points="604.44,89.77 607.29,91.85 606.2,95.2 602.67,95.2 601.58,91.85" fill="#ff8000"/>
<polygon points="607.12,85.88 609.97,87.95 608.88,91.31 605.35,91.31 604.26,87.95" fill="#ff8000"/>
<polygon points="609.79,81.98 612.65,84.05 611.56,87.41 608.03,87.41 606.94,84.05" fill="#ff8000"/>
<polygon points="612.47,78.07 615.33,80.15 614.24,83.5 610.71,83.5 609.62,80.15" fill="#ff8000"/>
<polygon points="615.15,74.16 618.01,76.23 616.92,79.59 613.39,79.59 612.3,76.23" fill="#ff8000"/>
<polygon points="617.83,70.24 620.68,72.31 619.59,75.67 616.07,75.67 614.98,72.31" fill="#ff8000"/>
<polygon points="620.51,66.32 623.36,68.39 622.27,71.74 618.75,71.74 617.66,68.39" fill="#ff8000"/>
<polygon points="623.19,62.39 626.04,64.46 624.95,67.81 621.43,67.81 620.34,64.46" fill="#ff8000"/>
<polygon points="625.87,58.45 628.72,60.53 627.63,63.88 624.1,63.88 623.01,60.53" fill="#ff8000"/>
<polygon points="628.55,54.52 631.4,56.59 630.31,59.95 626.78,59.95 625.69,56.59" fill="#ff8000"/>
<polygon points="631.23,50.57 634.08,52.65 632.99,56 629.46,56 628.37,52.65" fill="#ff8000"/>
<polygon points="633.9,46.58 636.76,48.66 635.67,52.01 632.14,52.01 631.05,48.66" fill="#ff8000"/>
<polygon points="636.58,42.55 639.44,44.62 638.35,47.98 634.82,47.98 633.73,44.62" fill="#ff8000"/>
<polygon points="639.26,38.48 642.12,40.55 641.03,43.91 637.5,43.91 636.41,40.55" fill="#ff8000"/>
<polygon points="641.94,34.38 644.8,36.45 643.71,39.81 640.18,39.81 639.09,36.45" fill="#ff8000"/>
<polygon points="644.62,30.27 647.47,32.34 646.38,35.69 642.86,35.69 641.77,32.34" fill="#ff8000"/>
<polygon points="647.3,26.14 650.15,28.21 649.06,31.57 645.54,31.57 644.45,28.21" fill="#ff8000"/>
<rect x="376.65" y="115.23" width="5.5" height="5.5" fill="#0000ff"/>
<rect x="379.33" y="117.24" width="5.5" height="5.5" fill="#0000ff"/>
<rect x="382.01" y="119.34" width="5.5" height="5.5" fill="#0000ff"/>
<rect x="384.69" y="121.5" width="5.5" height="5.5" fill="#0000ff"/>
<rect x="387.37" y="123.73" width="5.5" height="5.5" fill="#0000ff"/>
<rect x="390.04" y="126.02" width="5.5" height="5.5" fill="#0000ff"/>
<rect x="392.72" y="128.36" width="5.5" height="5.5" fill="#0000ff"/>
<rect x="395.4" y="130.74" width="5.5" height="5.5" fill="#0000ff"/>
<rect x="398.08" y="133.18" width="5.5" height="5.5" fill="#0000ff"/>
<rect x="400.76" y="135.69" width="5.5" height="5.5" fill="#0000ff"/>
<rect x="403.44" y="138.3" width="5.5" height="5.5" fill="#0000ff"/>
<rect x="406.12" y="141.01" width="5.5" height="5.5" fill="#0000ff"/>
<rect x="408.8" y="143.79" width="5.5" height="5.5" fill="#0000ff"/>
<rect x="411.48" y="146.62" width="5.5" height="5.5" fill="#0000ff"/>
<rect x="414.16" y="149.49" width="5.5" height="5.5" fill="#0000ff"/>
<rect x="416.83" y="152.4" width="5.5" height="5.5" fill="#0000ff"/>
<rect x="419.51" y="155.33" width="5.5" height="5.5" fill="#0000ff"/>
<rect x="422.19" y="158.27" width="5.5" height="5.5" fill="#0000ff"/>
<rect x="424.87" y="161.28" width="5.5" height="5.5" fill="#0000ff"/>
<rect x="427.55" y="164.37" width="5.5" height="5.5" fill="#0000ff"/>
<rect x="430.23" y="167.5" width="5.5" height="5.5" fill="#0000ff"/>
<rect x="432.91" y="170.59" width="5.5" height="5.5" fill="#0000ff"/>
<rect x="435.59" y="173.6" width="5.5" height="5.5" fill="#0000ff"/>
<rect x="438.27" y="176.49" width="5.5" height="5.5" fill="#0000ff"/>
<rect x="440.95" y="179.29" width="5.5" height="5.5" fill="#0000ff"/>
<rect x="443.62" y="182.01" width="5.5" height="5.5" fill="#0000ff"/>
<rect x="446.3" y="184.65" width="5.5" height="5.5" fill="#0000ff"/>
<rect x="448.98" y="187.19" width="5.5" height="5.5" fill="#0000ff"/>
<rect x="451.66" y="189.62" width="5.5" height="5.5" fill="#0000ff"/>
<rect x="454.34" y="191.93" width="5.5" height="5.5" fill="#0000ff"/>
<rect x="457.02" y="194.11" width="5.5" height="5.5" fill="#0000ff"/>
<rect x="459.7" y="196.15" width="5.5" height="5.5" fill="#0000ff"/>
<rect x="462.38" y="198.03" width="5.5" height="5.5" fill="#0000ff"/>
<rect x="465.06" y="199.75" width="5.5" height="5.5" fill="#0000ff"/>
<rect x="467.74" y="201.29" width="5.5" height="5.5" fill="#0000ff"/>
<rect x="470.41" y="202.66" width="5.5" height="5.5" fill="#0000ff"/>
<rect x="473.09" y="203.85" width="5.5" height="5.5" fill="#0000ff"/>
<rect x="475.77" y="204.84" width="5.5" height="5.5" fill="#0000ff"/>
<rect x="478.45" y="205.63" width="5.5" height="5.5" fill="#0000ff"/>
<rect x="481.13" y="206.16" width="5.5" height="5.5" fill="#0000ff"/>
<rect x="483.81" y="206.47" width="5.5" height="5.5" fill="#0000ff"/>
<rect x="486.49" y="206.61" width="5.5" height="5.5" fill="#0000ff"/>
<rect x="489.17" y="206.63" width="5.5" height="5.5" fill="#0000ff"/>
<rect x="491.85" y="206.44" width="5.5" height="5.5" fill="#0000ff"/>
<rect x="494.53" y="206.05" width="5.5" height="5.5" fill="#0000ff"/>
<rect x="497.2" y="205.46" width="5.5" height="5.5" fill="#0000ff"/>
<rect x="499.88" y="204.67" width="5.5" height="5.5" fill="#0000ff"/>
<rect x="502.56" y="203.69" width="5.5" height="5.5" fill="#0000ff"/>
<rect x="505.24" y="202.52" width="5.5" height="5.5" fill="#0000ff"/>
<rect x="507.92" y="201.16" width="5.5" height="5.5" fill="#0000ff"/>
<rect x="510.6" y="199.62" width="5.5" height="5.5" fill="#0000ff"/>
<rect x="513.28" y="197.91" width="5.5" height="5.5" fill="#0000ff"/>
<rect x="515.96" y="196.08" width="5.5" height="5.5" fill="#0000ff"/>
<rect x="518.64" y="194.14" width="5.5" height="5.5" fill="#0000ff"/>
<rect x="521.32" y="192.09" width="5.5" height="5.5" fill="#0000ff"/>
<rect x="524" y="189.9" width="5.5" height="5.5" fill="#0000ff"/>
<rect x="526.67" y="187.59" width="5.5" height="5.5" fill="#0000ff"/>
<rect x="529.35" y="185.14" width="5.5" height="5.5" fill="#0000ff"/>
<rect x="532.03" y="182.54" width="5.5" height="5.5" fill="#0000ff"/>
<rect x="534.71" y="179.79" width="5.5" height="5.5" fill="#0000ff"/>
<rect x="537.39" y="176.88" width="5.5" height="5.5" fill="#0000ff"/>
<rect x="540.07" y="173.85" width="5.5" height="5.5" fill="#0000ff"/>
<rect x="542.75" y="170.71" width="5.5" height="5.5" fill="#0000ff"/>
<rect x="545.43" y="167.49" width="5.5" height="5.5" fill="#0000ff"/>
<rect x="548.11" y="164.19" width="5.5" height="5.5" fill="#0000ff"/>
<rect x="550.78" y="160.82" width="5.5" height="5.5" fill="#0000ff"/>
<rect x="553.46" y="157.38" width="5.5" height="5.5" fill="#0000ff"/>
<rect x="556.14" y="153.89" width="5.5" height="5.5" fill="#0000ff"/>
<rect x="558.82" y="150.34" width="5.5" height="5.5" fill="#0000ff"/>
<rect x="561.5" y="146.75" width="5.5" height="5.5" fill="#0000ff"/>
<rect x="564.18" y="143.13" width="5.5" height="5.5" fill="#0000ff"/>
<rect x="566.86" y="139.47" width="5.5" height="5.5" fill="#0000ff"/>
<rect x="569.54" y="135.78" width="5.5" height="5.5" fill="#0000ff"/>
<rect x="572.22" y="132.06" width="5.5" height="5.5" fill="#0000ff"/>
<rect x="574.9" y="128.31" width="5.5" height="5.5" fill="#0000ff"/>
<rect x="577.57" y="124.54" width="5.5" height="5.5" fill="#0000ff"/>
<rect x="580.25" y="120.75" width="5.5" height="5.5" fill="#0000ff"/>
<rect x="582.93" y="116.94" width="5.5" height="5.5" fill="#0000ff"/>
<rect x="585.61" y="113.11" width="5.5" height="5.5" fill="#0000ff"/>
<rect x="588.29" y="109.26" width="5.5" height="5.5" fill="#0000ff"/>
<rect x="590.97" y="105.4" width="5.5" height="5.5" fill="#0000ff"/>
<rect x="593.65" y="101.53" width="5.5" height="5.5" fill="#0000ff"/>
<rect x="596.33" y="97.65" width="5.5" height="5.5" fill="#0000ff"/>
<rect x="599.01" y="93.77" width="5.5" height="5.5" fill="#0000ff"/>
<rect x="601.69" y="89.87" width="5.5" height="5.5" fill="#0000ff"/>
<rect x="604.37" y="85.97" width="5.5" height="5.5" fill="#0000ff"/>
<rect x="607.04" y="82.07" width="5.5" height="5.5" fill="#0000ff"/>
<rect x="609.72" y="78.16" width="5.5" height="5.5" fill="#0000ff"/>
<rect x="612.4" y="74.24" width="5.5" height="5.5" fill="#0000ff"/>
<rect x="615.08" y="70.32" width="5.5" height="5.5" fill="#0000ff"/>
<rect x="617.76" y="66.39" width="5.5" height="5.5" fill="#0000ff"/>
<rect x="620.44" y="62.46" width="5.5" height="5.5" fill="#0000ff"/>
<rect x="623.12" y="58.53" width="5.5" height="5.5" fill="#0000ff"/>
<rect x="625.8" y="54.59" width="5.5" height="5.5" fill="#0000ff"/>
<rect x="628.48" y="50.65" width="5.5" height="5.5" fill="#0000ff"/>
<rect x="631.15" y="46.66" width="5.5" height="5.5" fill="#0000ff"/>
<rect x="633.83" y="42.62" width="5.5" height="5.5" fill="#0000ff"/>
<rect x="636.51" y="38.55" width="5.5" height="5.5" fill="#0000ff"/>
<rect x="639.19" y="34.45" width="5.5" height="5.5" fill="#0000ff"/>
<rect x="641.87" y="30.33" width="5.5" height="5.5" fill="#0000ff"/>
<rect x="644.55" y="26.21" width="5.5" height="5.5" fill="#0000ff"/>
<line x1="487.8" y1="207" x2="487.8" y2="243.6" stroke="#111" stroke-width="1.4" stroke-dasharray="1.5 1.8"/>
<line x1="504.1" y1="199" x2="504.1" y2="243.6" stroke="#111" stroke-width="1.4" stroke-dasharray="1.5 1.8"/>
</g>
<line x1="647.3" y1="28.4" x2="647.3" y2="243.6" stroke="#000" stroke-width="1.4"/>
<line x1="379.4" y1="28.4" x2="648" y2="28.4" stroke="#000" stroke-width="1.5"/>
<line x1="378.6" y1="243.75" x2="648" y2="243.75" stroke="#000" stroke-width="1.1"/>
<line x1="379.4" y1="26.4" x2="379.4" y2="244.2" stroke="#000" stroke-width="1.5"/>
<line x1="379.4" y1="243.6" x2="379.4" y2="248.1" class="tk"/>
<line x1="395.53" y1="243.6" x2="395.53" y2="246.1" class="tm"/>
<line x1="404.96" y1="243.6" x2="404.96" y2="246.1" class="tm"/>
<line x1="411.66" y1="243.6" x2="411.66" y2="246.1" class="tm"/>
<line x1="416.85" y1="243.6" x2="416.85" y2="246.1" class="tm"/>
<line x1="421.09" y1="243.6" x2="421.09" y2="246.1" class="tm"/>
<line x1="424.68" y1="243.6" x2="424.68" y2="246.1" class="tm"/>
<line x1="427.79" y1="243.6" x2="427.79" y2="246.1" class="tm"/>
<line x1="430.53" y1="243.6" x2="430.53" y2="246.1" class="tm"/>
<line x1="432.98" y1="243.6" x2="432.98" y2="248.1" class="tk"/>
<line x1="449.11" y1="243.6" x2="449.11" y2="246.1" class="tm"/>
<line x1="458.54" y1="243.6" x2="458.54" y2="246.1" class="tm"/>
<line x1="465.24" y1="243.6" x2="465.24" y2="246.1" class="tm"/>
<line x1="470.43" y1="243.6" x2="470.43" y2="246.1" class="tm"/>
<line x1="474.67" y1="243.6" x2="474.67" y2="246.1" class="tm"/>
<line x1="478.26" y1="243.6" x2="478.26" y2="246.1" class="tm"/>
<line x1="481.37" y1="243.6" x2="481.37" y2="246.1" class="tm"/>
<line x1="484.11" y1="243.6" x2="484.11" y2="246.1" class="tm"/>
<line x1="486.56" y1="243.6" x2="486.56" y2="248.1" class="tk"/>
<line x1="502.69" y1="243.6" x2="502.69" y2="246.1" class="tm"/>
<line x1="512.12" y1="243.6" x2="512.12" y2="246.1" class="tm"/>
<line x1="518.82" y1="243.6" x2="518.82" y2="246.1" class="tm"/>
<line x1="524.01" y1="243.6" x2="524.01" y2="246.1" class="tm"/>
<line x1="528.25" y1="243.6" x2="528.25" y2="246.1" class="tm"/>
<line x1="531.84" y1="243.6" x2="531.84" y2="246.1" class="tm"/>
<line x1="534.95" y1="243.6" x2="534.95" y2="246.1" class="tm"/>
<line x1="537.69" y1="243.6" x2="537.69" y2="246.1" class="tm"/>
<line x1="540.14" y1="243.6" x2="540.14" y2="248.1" class="tk"/>
<line x1="556.27" y1="243.6" x2="556.27" y2="246.1" class="tm"/>
<line x1="565.7" y1="243.6" x2="565.7" y2="246.1" class="tm"/>
<line x1="572.4" y1="243.6" x2="572.4" y2="246.1" class="tm"/>
<line x1="577.59" y1="243.6" x2="577.59" y2="246.1" class="tm"/>
<line x1="581.83" y1="243.6" x2="581.83" y2="246.1" class="tm"/>
<line x1="585.42" y1="243.6" x2="585.42" y2="246.1" class="tm"/>
<line x1="588.53" y1="243.6" x2="588.53" y2="246.1" class="tm"/>
<line x1="591.27" y1="243.6" x2="591.27" y2="246.1" class="tm"/>
<line x1="593.72" y1="243.6" x2="593.72" y2="248.1" class="tk"/>
<line x1="609.85" y1="243.6" x2="609.85" y2="246.1" class="tm"/>
<line x1="619.28" y1="243.6" x2="619.28" y2="246.1" class="tm"/>
<line x1="625.98" y1="243.6" x2="625.98" y2="246.1" class="tm"/>
<line x1="631.17" y1="243.6" x2="631.17" y2="246.1" class="tm"/>
<line x1="635.41" y1="243.6" x2="635.41" y2="246.1" class="tm"/>
<line x1="639" y1="243.6" x2="639" y2="246.1" class="tm"/>
<line x1="642.11" y1="243.6" x2="642.11" y2="246.1" class="tm"/>
<line x1="644.85" y1="243.6" x2="644.85" y2="246.1" class="tm"/>
<line x1="647.3" y1="243.6" x2="647.3" y2="248.1" class="tk"/>
<line x1="379.4" y1="243.6" x2="374.6" y2="243.6" class="tk"/>
<line x1="379.4" y1="219.73" x2="377.1" y2="219.73" class="tm"/>
<line x1="379.4" y1="205.76" x2="377.1" y2="205.76" class="tm"/>
<line x1="379.4" y1="195.86" x2="377.1" y2="195.86" class="tm"/>
<line x1="379.4" y1="188.17" x2="377.1" y2="188.17" class="tm"/>
<line x1="379.4" y1="181.89" x2="377.1" y2="181.89" class="tm"/>
<line x1="379.4" y1="176.58" x2="377.1" y2="176.58" class="tm"/>
<line x1="379.4" y1="171.98" x2="377.1" y2="171.98" class="tm"/>
<line x1="379.4" y1="167.93" x2="377.1" y2="167.93" class="tm"/>
<line x1="379.4" y1="164.3" x2="374.6" y2="164.3" class="tk"/>
<line x1="379.4" y1="140.43" x2="377.1" y2="140.43" class="tm"/>
<line x1="379.4" y1="126.46" x2="377.1" y2="126.46" class="tm"/>
<line x1="379.4" y1="116.56" x2="377.1" y2="116.56" class="tm"/>
<line x1="379.4" y1="108.87" x2="377.1" y2="108.87" class="tm"/>
<line x1="379.4" y1="102.59" x2="377.1" y2="102.59" class="tm"/>
<line x1="379.4" y1="97.28" x2="377.1" y2="97.28" class="tm"/>
<line x1="379.4" y1="92.68" x2="377.1" y2="92.68" class="tm"/>
<line x1="379.4" y1="88.63" x2="377.1" y2="88.63" class="tm"/>
<line x1="379.4" y1="85" x2="374.6" y2="85" class="tk"/>
<line x1="379.4" y1="61.13" x2="377.1" y2="61.13" class="tm"/>
<line x1="379.4" y1="47.16" x2="377.1" y2="47.16" class="tm"/>
<line x1="379.4" y1="37.26" x2="377.1" y2="37.26" class="tm"/>
<line x1="379.4" y1="29.57" x2="377.1" y2="29.57" class="tm"/>
<text x="379.4" y="262.7" text-anchor="middle" font-size="13.2" font-family="Liberation Sans, sans-serif" font-weight="bold" stroke="#000" stroke-width="0.25"><tspan class="h1">1</tspan>0<tspan font-size="8.5" dy="-5.5">-<tspan class="h1">1</tspan><tspan class="h1">1</tspan></tspan></text>
<text x="432.98" y="262.7" text-anchor="middle" font-size="13.2" font-family="Liberation Sans, sans-serif" font-weight="bold" stroke="#000" stroke-width="0.25"><tspan class="h1">1</tspan>0<tspan font-size="8.5" dy="-5.5">-<tspan class="h1">1</tspan>0</tspan></text>
<text x="486.56" y="262.7" text-anchor="middle" font-size="13.2" font-family="Liberation Sans, sans-serif" font-weight="bold" stroke="#000" stroke-width="0.25"><tspan class="h1">1</tspan>0<tspan font-size="8.5" dy="-5.5">-9</tspan></text>
<text x="540.14" y="262.7" text-anchor="middle" font-size="13.2" font-family="Liberation Sans, sans-serif" font-weight="bold" stroke="#000" stroke-width="0.25"><tspan class="h1">1</tspan>0<tspan font-size="8.5" dy="-5.5">-8</tspan></text>
<text x="593.72" y="262.7" text-anchor="middle" font-size="13.2" font-family="Liberation Sans, sans-serif" font-weight="bold" stroke="#000" stroke-width="0.25"><tspan class="h1">1</tspan>0<tspan font-size="8.5" dy="-5.5">-7</tspan></text>
<text x="647.3" y="262.7" text-anchor="middle" font-size="13.2" font-family="Liberation Sans, sans-serif" font-weight="bold" stroke="#000" stroke-width="0.25"><tspan class="h1">1</tspan>0<tspan font-size="8.5" dy="-5.5">-6</tspan></text>
<text x="371.9" y="247" text-anchor="end" font-size="11.3" font-family="Liberation Sans, sans-serif" font-weight="bold" stroke="#000" stroke-width="0.25"><tspan class="h1">1</tspan>0<tspan font-size="7.7" dy="-4.4">3</tspan></text>
<text x="371.9" y="167.7" text-anchor="end" font-size="11.3" font-family="Liberation Sans, sans-serif" font-weight="bold" stroke="#000" stroke-width="0.25"><tspan class="h1">1</tspan>0<tspan font-size="7.7" dy="-4.4">4</tspan></text>
<text x="371.9" y="88.4" text-anchor="end" font-size="11.3" font-family="Liberation Sans, sans-serif" font-weight="bold" stroke="#000" stroke-width="0.25"><tspan class="h1">1</tspan>0<tspan font-size="7.7" dy="-4.4">5</tspan></text>
<rect x="107.4" y="34.4" width="136.1" height="35.0" fill="#fff" stroke="#858585" stroke-width="1.2"/>
<line x1="109.3" y1="44.3" x2="134.4" y2="44.3" stroke="#555" stroke-width="1"/>
<line x1="109.3" y1="61.2" x2="134.4" y2="61.2" stroke="#555" stroke-width="1"/>
<circle cx="121.6" cy="44.3" r="2.7" fill="#ff8000"/>
<path d="M121.6 57.82L124.85 63.12L118.35 63.12Z" fill="#0000ff"/>
<text x="138.2" y="48.2" font-size="13.5" font-family="Liberation Sans, sans-serif" font-weight="bold" stroke="#000" stroke-width="0.25">T=450K f=20kHz</text>
<text x="138.2" y="64.6" font-size="13.5" font-family="Liberation Sans, sans-serif" font-weight="bold" stroke="#000" stroke-width="0.25">T=300K f=20kHz</text>
<rect x="443.6" y="34.5" width="144.3" height="35.5" fill="#fff" stroke="#858585" stroke-width="1.2"/>
<line x1="445.2" y1="44.5" x2="470.4" y2="44.5" stroke="#555" stroke-width="1"/>
<line x1="445.2" y1="61.8" x2="470.4" y2="61.8" stroke="#555" stroke-width="1"/>
<polygon points="458,41.6 460.85,43.67 459.76,47.03 456.24,47.03 455.15,43.67" fill="#ff8000"/>
<rect x="455.8" y="59.6" width="4.4" height="4.4" fill="#0000ff"/>
<text x="473.8" y="48.3" font-size="13.75" font-family="Liberation Sans, sans-serif" font-weight="bold" stroke="#000" stroke-width="0.25">T=450K f=<tspan class="h1">1</tspan>00kHz</text>
<text x="473.8" y="65.4" font-size="13.75" font-family="Liberation Sans, sans-serif" font-weight="bold" stroke="#000" stroke-width="0.25">T=300K f=<tspan class="h1">1</tspan>00kHz</text>
<rect x="117.5" y="91.9" width="117" height="28.2" fill="#fff" stroke="#858585" stroke-width="1.2"/>
<text x="120.8" y="103.7" font-size="10.2" font-family="Liberation Sans, sans-serif" font-weight="bold" stroke="#000" stroke-width="0.25">τ_opt(T=300K)=2.66ns</text>
<text x="120.8" y="115.5" font-size="10.2" font-family="Liberation Sans, sans-serif" font-weight="bold" stroke="#000" stroke-width="0.25">τ_opt(T=450K)=4.75ns</text>
<rect x="454.5" y="86.8" width="117.8" height="28.2" fill="#fff" stroke="#858585" stroke-width="1.2"/>
<text x="458.8" y="98.0" font-size="10.2" font-family="Liberation Sans, sans-serif" font-weight="bold" stroke="#000" stroke-width="0.25">τ_opt(T=300K)=<tspan class="h1">1</tspan>.<tspan class="h1">1</tspan>7ns</text>
<text x="458.8" y="109.7" font-size="10.2" font-family="Liberation Sans, sans-serif" font-weight="bold" stroke="#000" stroke-width="0.25">τ_opt(T=450K)=2.<tspan class="h1">1</tspan>0ns</text>
<text x="167.9" y="14.6" text-anchor="middle" font-size="19.3" font-family="Liberation Sans, sans-serif" font-weight="bold" stroke="#000" stroke-width="0.25">(a)</text>
<text x="508.5" y="14.4" text-anchor="middle" font-size="19.8" font-family="Liberation Sans, sans-serif" font-weight="bold" stroke="#000" stroke-width="0.25">(b)</text>
<text x="177.6" y="286.8" text-anchor="middle" font-size="13.5" font-family="Liberation Sans, sans-serif" font-weight="bold" stroke="#000" stroke-width="0.25">Ambipolar lifetime(s)</text>
<text x="514" y="285.8" text-anchor="middle" font-size="13.7" font-family="Liberation Sans, sans-serif" font-weight="bold" stroke="#000" stroke-width="0.25">Ambipolar lifetime(s)</text>
<text transform="translate(13.2 137.2) rotate(-90)" text-anchor="middle" font-size="16.3" font-family="Liberation Sans, sans-serif" font-weight="bold" stroke="#000" stroke-width="0.25">Power density (W/cm<tspan font-size="10.8" dy="-4.5">2</tspan><tspan dy="4.5">)</tspan></text>
<text transform="translate(349.1 135.0) rotate(-90)" text-anchor="middle" font-size="16.35" font-family="Liberation Sans, sans-serif" font-weight="bold" stroke="#000" stroke-width="0.25">Power density (W/cm<tspan font-size="10.8" dy="-4.5">2</tspan><tspan dy="4.5">)</tspan></text>
<path d="M815 0H534V1059Q381 916 173 848V1103Q283 1139 411 1239Q539 1339 586 1466H815Z" transform="translate(29.73 264.40) scale(0.006448 -0.006448)" fill="#000" stroke="#000" stroke-width="0.25" vector-effect="non-scaling-stroke"/>
<path d="M815 0H534V1059Q381 916 173 848V1103Q283 1139 411 1239Q539 1339 586 1466H815Z" transform="translate(47.27 258.90) scale(0.003745 -0.003745)" fill="#000" stroke="#000" stroke-width="0.25" vector-effect="non-scaling-stroke"/>
<path d="M815 0H534V1059Q381 916 173 848V1103Q283 1139 411 1239Q539 1339 586 1466H815Z" transform="translate(51.53 258.90) scale(0.004157 -0.004157)" fill="#000" stroke="#000" stroke-width="0.25" vector-effect="non-scaling-stroke"/>
<path d="M815 0H534V1059Q381 916 173 848V1103Q283 1139 411 1239Q539 1339 586 1466H815Z" transform="translate(82.90 264.40) scale(0.006448 -0.006448)" fill="#000" stroke="#000" stroke-width="0.25" vector-effect="non-scaling-stroke"/>
<path d="M815 0H534V1059Q381 916 173 848V1103Q283 1139 411 1239Q539 1339 586 1466H815Z" transform="translate(100.43 258.90) scale(0.004157 -0.004157)" fill="#000" stroke="#000" stroke-width="0.25" vector-effect="non-scaling-stroke"/>
<path d="M815 0H534V1059Q381 916 173 848V1103Q283 1139 411 1239Q539 1339 586 1466H815Z" transform="translate(138.68 264.40) scale(0.006448 -0.006448)" fill="#000" stroke="#000" stroke-width="0.25" vector-effect="non-scaling-stroke"/>
<path d="M815 0H534V1059Q381 916 173 848V1103Q283 1139 411 1239Q539 1339 586 1466H815Z" transform="translate(192.07 264.40) scale(0.006448 -0.006448)" fill="#000" stroke="#000" stroke-width="0.25" vector-effect="non-scaling-stroke"/>
<path d="M815 0H534V1059Q381 916 173 848V1103Q283 1139 411 1239Q539 1339 586 1466H815Z" transform="translate(245.48 264.40) scale(0.006448 -0.006448)" fill="#000" stroke="#000" stroke-width="0.25" vector-effect="non-scaling-stroke"/>
<path d="M815 0H534V1059Q381 916 173 848V1103Q283 1139 411 1239Q539 1339 586 1466H815Z" transform="translate(298.88 264.40) scale(0.006448 -0.006448)" fill="#000" stroke="#000" stroke-width="0.25" vector-effect="non-scaling-stroke"/>
<path d="M815 0H534V1059Q381 916 173 848V1103Q283 1139 411 1239Q539 1339 586 1466H815Z" transform="translate(18.62 248.70) scale(0.005528 -0.005528)" fill="#000" stroke="#000" stroke-width="0.25" vector-effect="non-scaling-stroke"/>
<path d="M815 0H534V1059Q381 916 173 848V1103Q283 1139 411 1239Q539 1339 586 1466H815Z" transform="translate(18.62 169.70) scale(0.005528 -0.005528)" fill="#000" stroke="#000" stroke-width="0.25" vector-effect="non-scaling-stroke"/>
<path d="M815 0H534V1059Q381 916 173 848V1103Q283 1139 411 1239Q539 1339 586 1466H815Z" transform="translate(18.62 90.70) scale(0.005528 -0.005528)" fill="#000" stroke="#000" stroke-width="0.25" vector-effect="non-scaling-stroke"/>
<path d="M815 0H534V1059Q381 916 173 848V1103Q283 1139 411 1239Q539 1339 586 1466H815Z" transform="translate(366.13 262.70) scale(0.006448 -0.006448)" fill="#000" stroke="#000" stroke-width="0.25" vector-effect="non-scaling-stroke"/>
<path d="M815 0H534V1059Q381 916 173 848V1103Q283 1139 411 1239Q539 1339 586 1466H815Z" transform="translate(383.67 257.20) scale(0.003745 -0.003745)" fill="#000" stroke="#000" stroke-width="0.25" vector-effect="non-scaling-stroke"/>
<path d="M815 0H534V1059Q381 916 173 848V1103Q283 1139 411 1239Q539 1339 586 1466H815Z" transform="translate(387.93 257.20) scale(0.004157 -0.004157)" fill="#000" stroke="#000" stroke-width="0.25" vector-effect="non-scaling-stroke"/>
<path d="M815 0H534V1059Q381 916 173 848V1103Q283 1139 411 1239Q539 1339 586 1466H815Z" transform="translate(419.48 262.70) scale(0.006448 -0.006448)" fill="#000" stroke="#000" stroke-width="0.25" vector-effect="non-scaling-stroke"/>
<path d="M815 0H534V1059Q381 916 173 848V1103Q283 1139 411 1239Q539 1339 586 1466H815Z" transform="translate(437.01 257.20) scale(0.004157 -0.004157)" fill="#000" stroke="#000" stroke-width="0.25" vector-effect="non-scaling-stroke"/>
<path d="M815 0H534V1059Q381 916 173 848V1103Q283 1139 411 1239Q539 1339 586 1466H815Z" transform="translate(475.43 262.70) scale(0.006448 -0.006448)" fill="#000" stroke="#000" stroke-width="0.25" vector-effect="non-scaling-stroke"/>
<path d="M815 0H534V1059Q381 916 173 848V1103Q283 1139 411 1239Q539 1339 586 1466H815Z" transform="translate(529.02 262.70) scale(0.006448 -0.006448)" fill="#000" stroke="#000" stroke-width="0.25" vector-effect="non-scaling-stroke"/>
<path d="M815 0H534V1059Q381 916 173 848V1103Q283 1139 411 1239Q539 1339 586 1466H815Z" transform="translate(582.59 262.70) scale(0.006448 -0.006448)" fill="#000" stroke="#000" stroke-width="0.25" vector-effect="non-scaling-stroke"/>
<path d="M815 0H534V1059Q381 916 173 848V1103Q283 1139 411 1239Q539 1339 586 1466H815Z" transform="translate(636.17 262.70) scale(0.006448 -0.006448)" fill="#000" stroke="#000" stroke-width="0.25" vector-effect="non-scaling-stroke"/>
<path d="M815 0H534V1059Q381 916 173 848V1103Q283 1139 411 1239Q539 1339 586 1466H815Z" transform="translate(355.02 247.00) scale(0.005528 -0.005528)" fill="#000" stroke="#000" stroke-width="0.25" vector-effect="non-scaling-stroke"/>
<path d="M815 0H534V1059Q381 916 173 848V1103Q283 1139 411 1239Q539 1339 586 1466H815Z" transform="translate(355.02 167.70) scale(0.005528 -0.005528)" fill="#000" stroke="#000" stroke-width="0.25" vector-effect="non-scaling-stroke"/>
<path d="M815 0H534V1059Q381 916 173 848V1103Q283 1139 411 1239Q539 1339 586 1466H815Z" transform="translate(355.02 88.40) scale(0.005528 -0.005528)" fill="#000" stroke="#000" stroke-width="0.25" vector-effect="non-scaling-stroke"/>
<path d="M815 0H534V1059Q381 916 173 848V1103Q283 1139 411 1239Q539 1339 586 1466H815Z" transform="translate(539.53 48.30) scale(0.006722 -0.006722)" fill="#000" stroke="#000" stroke-width="0.25" vector-effect="non-scaling-stroke"/>
<path d="M815 0H534V1059Q381 916 173 848V1103Q283 1139 411 1239Q539 1339 586 1466H815Z" transform="translate(539.53 65.40) scale(0.006722 -0.006722)" fill="#000" stroke="#000" stroke-width="0.25" vector-effect="non-scaling-stroke"/>
<path d="M815 0H534V1059Q381 916 173 848V1103Q283 1139 411 1239Q539 1339 586 1466H815Z" transform="translate(534.11 98.00) scale(0.004980 -0.004980)" fill="#000" stroke="#000" stroke-width="0.25" vector-effect="non-scaling-stroke"/>
<path d="M815 0H534V1059Q381 916 173 848V1103Q283 1139 411 1239Q539 1339 586 1466H815Z" transform="translate(542.63 98.00) scale(0.004980 -0.004980)" fill="#000" stroke="#000" stroke-width="0.25" vector-effect="non-scaling-stroke"/>
<path d="M815 0H534V1059Q381 916 173 848V1103Q283 1139 411 1239Q539 1339 586 1466H815Z" transform="translate(542.61 109.70) scale(0.004980 -0.004980)" fill="#000" stroke="#000" stroke-width="0.25" vector-effect="non-scaling-stroke"/>
</svg></body></html>
